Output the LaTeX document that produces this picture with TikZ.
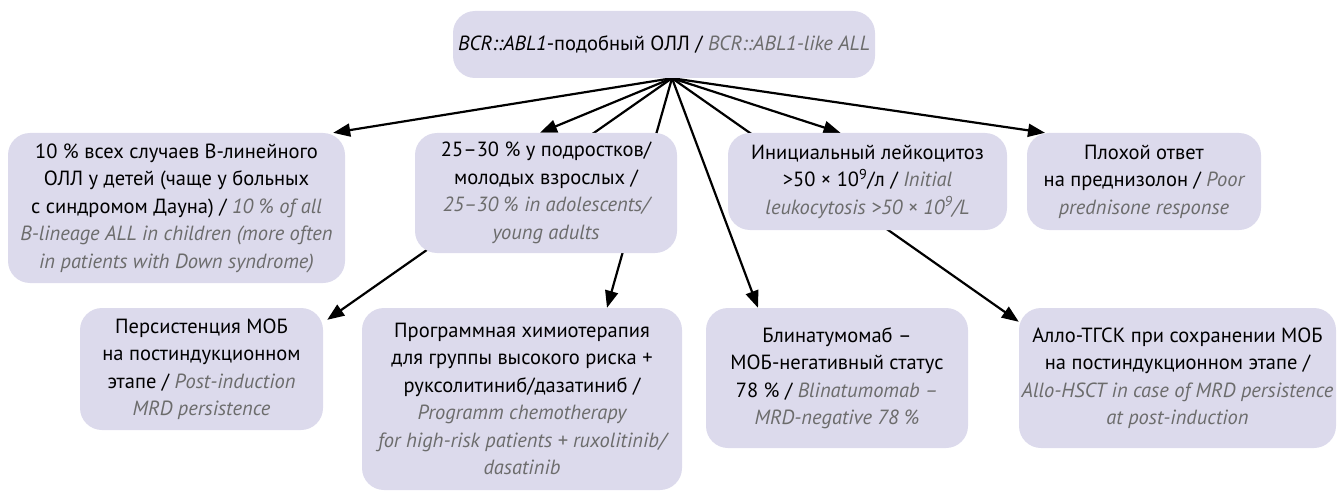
\documentclass[tikz,border=0pt]{standalone}
\usepackage{fontspec}
\setmainfont{PT Sans}
\usetikzlibrary{arrows.meta, backgrounds}

\definecolor{boxfill}{RGB}{220,218,236}
\definecolor{engray}{RGB}{108,108,108}
\newcommand{\entext}[1]{{\color{engray}\itshape #1}}

\begin{document}
\begin{tikzpicture}[x=1pt, y=-1pt,
    box/.style={rectangle, fill=boxfill, rounded corners=22pt, align=center, inner sep=0pt, font=\fontsize{20.5}{27.5}\selectfont},
    arrow/.style={-{Triangle[length=17pt, width=13pt]}, line width=2.2pt}
]
\useasboundingbox (0,0) rectangle (1338,492);

% ==== Root ====
\node[box, minimum width=422pt, minimum height=67pt] (root) at (664,44.5) {\textit{BCR::ABL1}-подобный ОЛЛ / \entext{BCR::ABL1-like ALL}};

% ==== Features ====
\node[box, minimum width=337pt, minimum height=150pt] (ten) at (176.5,208) {10 \% всех случаев В-линейного\\ОЛЛ у детей (чаще у больных\\с синдромом Дауна) / \entext{10 \% of all}\\\entext{B-lineage ALL in children (more often}\\\entext{in patients with Down syndrome)}};
\node[box, minimum width=262pt, minimum height=120pt] (teen) at (546,193) {25–30 \% у подростков/\\молодых взрослых /\\\entext{25–30 \% in adolescents/}\\\entext{young adults}};
\node[box, minimum width=279pt, minimum height=97pt] (leuko) at (867.5,181.5) {Инициальный лейкоцитоз\\>50 × 10\textsuperscript{9}/л / \entext{Initial}\\\entext{leukocytosis >50 × 10\textsuperscript{9}/L}};
\node[box, minimum width=234pt, minimum height=97pt] (pred) at (1144,181.5) {Плохой ответ\\на преднизолон / \entext{Poor}\\\entext{prednisone response}};

% ==== Therapy ====
\node[box, minimum width=243pt, minimum height=122pt] (persist) at (201.5,369) {Персистенция МОБ\\на постиндукционном\\этапе / \entext{Post-induction}\\\entext{MRD persistence}};
\node[box, minimum width=320pt, minimum height=182pt] (chemo) at (522,399) {Программная химиотерапия\\для группы высокого риска +\\руксолитиниб/дазатиниб /\\\entext{Programm chemotherapy}\\\entext{for high-risk patients + ruxolitinib/}\\\entext{dasatinib}};
\node[box, minimum width=262pt, minimum height=140pt] (blina) at (837,378) {Блинатумомаб –\\МОБ-негативный статус\\78 \% / \entext{Blinatumomab –}\\\entext{MRD-negative 78 \%}};
\node[box, minimum width=317pt, minimum height=140pt] (allo) at (1177.5,378) {Алло-ТГСК при сохранении МОБ\\на постиндукционном этапе /\\\entext{Allo-HSCT in case of MRD persistence}\\\entext{at post-induction}};

% ==== Relations ====
\coordinate (hub) at ([xshift=8pt]root.south);
\begin{scope}[on background layer]
\draw[arrow] (hub) -- ([xshift=-12pt]ten.north east);
\draw[arrow] (hub) -- ([xshift=-6pt]teen.north);
\draw[arrow] (hub) -- ([xshift=4pt, yshift=-12pt]persist.north east);
\draw[arrow] (hub) -- ([xshift=85pt]chemo.north);
\draw[arrow] (hub) -- ([xshift=-79pt]blina.north);
\draw[arrow] (hub) -- ([yshift=-14pt]allo.north west);
\draw[arrow] (hub) -- ([xshift=-27pt]leuko.north);
\draw[arrow] (hub) -- ([xshift=-99pt]pred.north);
\end{scope}

\end{tikzpicture}
\end{document}
